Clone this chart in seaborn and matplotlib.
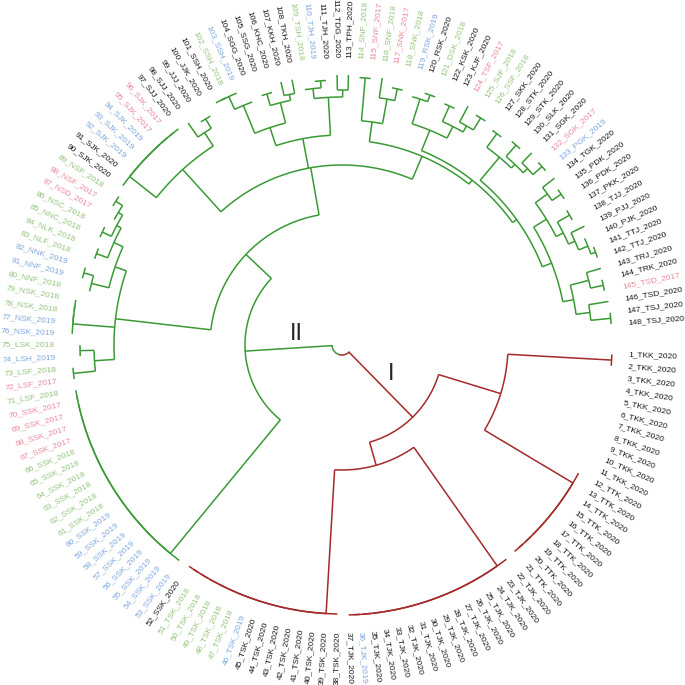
import numpy as np
import matplotlib.pyplot as plt
import seaborn as sns

sns.set_theme(style="white")
plt.rcParams['font.family'] = ['Liberation Sans', 'DejaVu Sans']

# leaf codes and years, leaf i = index + 1
codes = (['TKK'] * 11 + ['TTK'] * 10 + ['TJK'] * 16 + ['TSK'] * 14 + ['SSK'] * 19
         + ['LSF', 'LSF', 'LSF', 'LSH', 'LSK', 'NSK', 'NSK', 'NSK', 'NSK', 'NNF', 'NNF',
            'NNK', 'NLF', 'NLK', 'NNC', 'NSC', 'NSD', 'NSF', 'NSF', 'SJK', 'SJK', 'SJK',
            'SJK', 'SJK', 'SJK', 'SJK', 'SJJ', 'SJJ', 'JJJ', 'JJK', 'SSH', 'SSH', 'SSH',
            'SGG', 'SSG', 'KHC', 'KKH', 'TKH', 'TSH', 'TJH', 'TJH', 'TDG', 'TPH', 'SNF',
            'SNF', 'SNF', 'SNK', 'SNK', 'RSK', 'RSK', 'DSK', 'KSK', 'KJF', 'TSF', 'SJF',
            'SSF', 'SKK', 'STK', 'STK', 'SLK', 'SGK', 'SGK', 'PGK', 'TGK', 'PDK', 'PDK',
            'PKK', 'TJJ', 'PJJ', 'PJK', 'TTJ', 'TTJ', 'TRJ', 'TRK', 'TSD', 'TSD', 'TSJ',
            'TSJ'])
years = ([2020] * 35 + [2019, 2020] + [2020] * 8 + [2019] + [2018] * 5 + [2020]
         + [2019] * 8 + [2018] * 6 + [2017] * 4
         + [2018, 2017, 2018, 2019, 2018, 2019, 2019, 2018, 2018, 2018, 2019, 2019, 2018,
            2018, 2018, 2018, 2017, 2017, 2018, 2020, 2020, 2019, 2019, 2019, 2017, 2017,
            2020, 2020, 2020, 2020, 2020, 2018, 2019, 2020, 2020, 2020, 2020, 2020, 2018,
            2019, 2020, 2020, 2020, 2018, 2017, 2018, 2017, 2018, 2019, 2020, 2018, 2020,
            2020, 2017, 2018, 2018, 2020, 2020, 2020, 2020, 2020, 2017, 2019, 2020, 2020,
            2020, 2020, 2020, 2020, 2020, 2020, 2020, 2020, 2020, 2017, 2020, 2020, 2020])
year_colors = {2020: '#1a1a1a', 2019: '#7ea7dc', 2018: '#93c47d', 2017: '#e8899a'}


def chain(a, b, h):
    # ladder-like cluster of near identical leaves, starting at leaf a
    node = [h, b - 1, b]
    for i in range(b - 2, a - 1, -1):
        node = [h, i, node]
    return node


# cluster I (red); a node is [radius, child, child, ...], a leaf is its number
clust_1 = [101,
           [166, [270, 1, 2], chain(12, 21, 269)],
           [125, chain(22, 37, 270), chain(38, 52, 269)]]

# cluster II (green)
sub_left = [228,
            [248, [270, 72, 73], [262, 74, 75]],
            chain(76, 79, 270),
            [240, [258, 80, [268, 81, 82]],
             [250, [262, 83, 84], [255, [265, 85, 86], [260, 87, [268, 88, 89]]]]]]
sub_m1 = [237, chain(90, 97, 271), [253, 98, [264, 99, 100]]]
sub_t = [210,
         [229, [259, [273, [273, 101, 102], 103], 104], [250, [262, 105, 106], [256, 107, 108]]],
         [248, [258, 109, [265, 110, 111]], [255, 112, 113]]]
sub_right = [205,
             [225, [268, 114, 115], [250, 116, [262, 117, 118]]],
             [210,
              [232, [258, 119, [265, 120, 121]], [245, [262, 122, 123], [252, 124, [266, 125, 126]]]],
              [215,
               [245, [262, 127, 128], [250, [265, 129, 130], [256, 131, [268, 132, 133]]]],
               [225,
                [240, [255, 134, [266, 135, 136]],
                 [248, [262, 137, 138], [255, 139, [265, 140, [270, 141, 142]]]]],
                [236, [255, 143, [268, 144, 145]], [250, 146, [270, 147, 148]]]]]]]
clust_2 = [97, chain(53, 71, 270), [132, sub_left, [180, sub_m1, sub_t, sub_right]]]

R_TIP = 270
START, STEP = -2.0, 2.405
LW = 1.1


def theta(y):
    return np.deg2rad(START - (y - 1) * STEP)


def place(node):
    if isinstance(node, int):
        return float(node)
    return float(np.mean([place(k) for k in node[1:]]))


def draw(ax, node, color):
    h = node[0]
    ys = [place(k) for k in node[1:]]
    t = np.linspace(theta(min(ys)), theta(max(ys)), 60)
    ax.plot(t, np.full_like(t, h), color=color, lw=LW, solid_capstyle='butt')
    for k, y in zip(node[1:], ys):
        if isinstance(k, int):
            top = h if h >= 258 else R_TIP
        else:
            top = k[0]
            draw(ax, k, color)
        if top > h:
            ax.plot([theta(y), theta(y)], [h, top], color=color, lw=LW, solid_capstyle='butt')


fig = plt.figure(figsize=(6.85, 6.85), dpi=100)
S = 300
cx, cy = 342, 685 - 345
ax = fig.add_axes([(cx - S) / 685, (cy - S) / 685, 2 * S / 685, 2 * S / 685], projection='polar')
ax.set_ylim(0, S)
ax.set_axis_off()

# root arc and the two clusters
red, green = '#a52a2a', '#3a9a35'
ys_root = [place(clust_1), place(clust_2)]
t = np.linspace(theta(ys_root[0]), theta(ys_root[1]), 40)
ax.plot(t[:20], np.full(20, 10), color=red, lw=LW)
ax.plot(t[19:], np.full(21, 10), color=green, lw=LW)
ax.plot([theta(ys_root[0])] * 2, [10, clust_1[0]], color=red, lw=LW)
ax.plot([theta(ys_root[1])] * 2, [10, clust_2[0]], color=green, lw=LW)
draw(ax, clust_1, red)
draw(ax, clust_2, green)

for i in range(1, 149):
    ang = START - (i - 1) * STEP
    a = ang % 360
    if 90 < a < 270:
        rot, ha = a + 180, 'right'
    else:
        rot, ha = a, 'left'
    ax.text(np.deg2rad(ang), 287, f'{i}_{codes[i - 1]}_{years[i - 1]}',
            rotation=rot, rotation_mode='anchor', ha=ha, va='center',
            fontsize=6.0, color=year_colors[years[i - 1]], clip_on=False)

ax.text(np.deg2rad(-30.6), 57, 'I', fontsize=17, ha='center', va='center')
ax.text(np.deg2rad(166.5), 47, 'II', fontsize=17, ha='center', va='center')

fig.savefig('out.png', dpi=100)
